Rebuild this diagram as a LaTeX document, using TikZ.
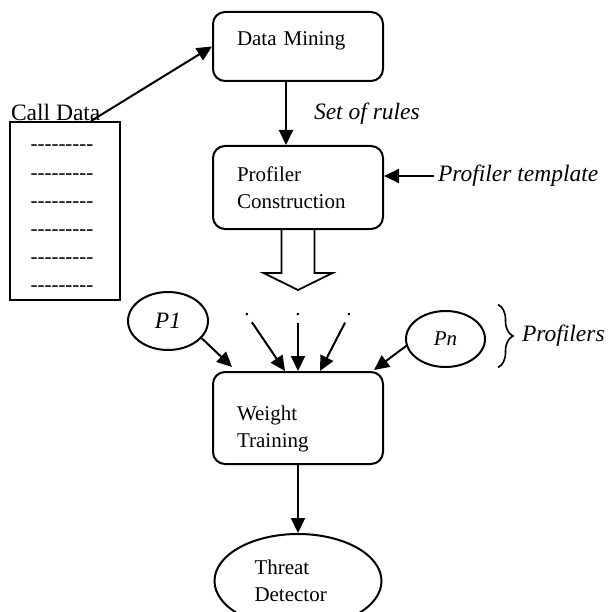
\documentclass[tikz,border=0pt]{standalone}
\usepackage{fontspec}
\setmainfont{Liberation Serif}
\usepackage{tikz}
\usetikzlibrary{shapes,arrows.meta,positioning,decorations.pathreplacing}

% a row of plain hyphens (kerns keep them from turning into dashes)
\newcommand{\dashrow}{-\kern0pt-\kern0pt-\kern0pt-\kern0pt-\kern0pt-\kern0pt-\kern0pt-\kern0pt-}

\begin{document}
\begin{tikzpicture}[x=1pt,y=-1pt,->,>={Triangle[length=15pt,width=14pt]},line width=2pt]
\tikzstyle{box}=[draw,rectangle,rounded corners=12pt,minimum width=170pt,text width=122pt,inner xsep=24pt,align=left,font=\fontsize{21}{27}\selectfont]
\tikzstyle{profiler}=[draw,ellipse,inner sep=0pt,font=\fontsize{23.5}{28}\selectfont\itshape]
\tikzstyle{note}=[inner sep=3pt,font=\fontsize{23.5}{28}\selectfont\itshape]
\tikzstyle{plain}=[inner sep=0pt,font=\fontsize{21}{27}\selectfont]

\useasboundingbox (0,0) rectangle (607,612);

% main chain
\node[box,minimum height=69pt,text depth=16pt] (mining) at (298,46.5) {Data Mining};
\node[box,minimum height=83pt] (profiler) [below=63pt of mining] {Profiler\\Construction};
\node[box,minimum height=92pt,text depth=10.5pt] (weight) [below=141pt of profiler] {Weight\\Training};
\node[draw,ellipse,minimum width=167pt,minimum height=94pt,inner sep=0pt,text width=87pt,align=left,font=\fontsize{21}{27}\selectfont] (threat) [below=68pt of weight] {Threat\\Detector};

% call records
\node[draw,rectangle,minimum width=110pt,minimum height=178pt,inner sep=0pt] (calldata) at (65,211) {};
\node[anchor=base west,inner sep=0pt,font=\fontsize{23.5}{28}\selectfont] (calllabel) at ([xshift=1pt]calldata.north west) {Call Data};
\foreach \i in {0,...,5}
  \node[plain] (row\i) at ([xshift=-3pt,yshift={-27pt-28.2pt*\i}]calldata.north) {\dashrow};
\coordinate (feed) at ([xshift=26pt]calldata.north);

% profilers
\node[profiler,minimum width=80pt,minimum height=58pt] (p1) at (168,321) {P1};
\node[profiler,minimum width=79pt,minimum height=56pt,font=\fontsize{21}{27}\selectfont\itshape] (pn) at (445.5,339) {Pn};
\node[plain] (dot1) at (247,315) {.};
\node[plain] (dot2) at (298,315) {.};
\node[plain] (dot3) at (349,315) {.};

\node[note] (template) [right=50pt of profiler, yshift=11.5pt] {Profiler template};
\node[note] (profilers) [right=32pt of pn, yshift=3pt] {Profilers};

\coordinate (rulesfoot) at ([xshift=-12pt]mining.south);

\path (feed) edge (mining.west);
\path (rulesfoot) edge node[note,right=24pt] {Set of rules} (rulesfoot |- profiler.north);
\path (template.west) edge (template.west -| profiler.east);
\path (p1.-27) edge ([xshift=20pt,yshift=4pt]weight.north west);
\path (dot1) edge[shorten <=6pt] ([xshift=-13pt]weight.north);
\path (dot2) edge[shorten <=6pt] (weight.north);
\path (dot3) edge[shorten <=6pt] ([xshift=22pt]weight.north);
\path (pn.190) edge ([xshift=-10pt,yshift=1pt]weight.north east);
\path (weight) edge (threat);

% hollow arrow under the construction box
\draw[-,line width=1.8pt] (profiler.south) ++(-16.5,0) -- ++(0,43) -- ++(-18,0) -- ++(34.5,17) -- ++(34.5,-17) -- ++(-18,0) -- ++(0,-43);

% brace grouping the profilers
\draw[-,decorate,decoration={brace,amplitude=15pt},line width=1.6pt] ([xshift=-20pt,yshift=31.5pt]profilers.west) -- ([xshift=-20pt,yshift=-31.5pt]profilers.west);
\end{tikzpicture}
\end{document}
